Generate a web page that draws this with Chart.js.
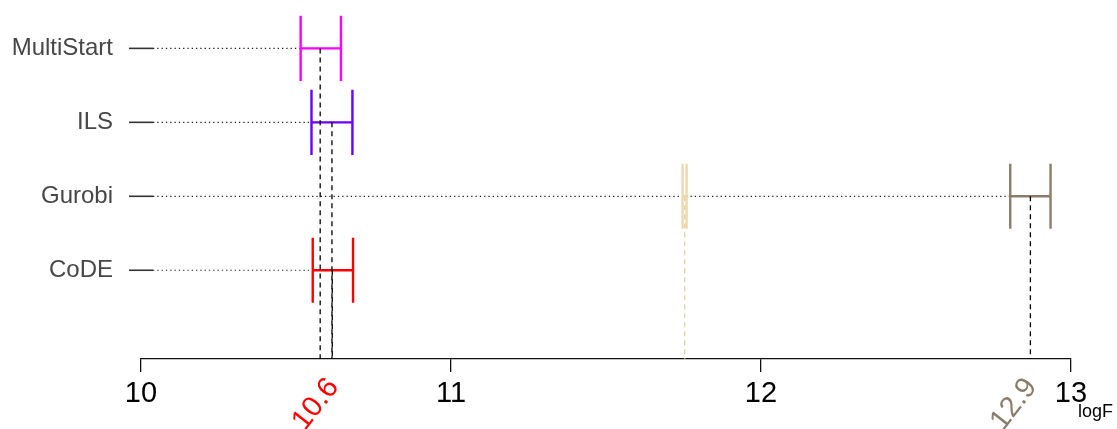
<!DOCTYPE html>
<html>
<head>
<meta charset="utf-8">
<title>logF intervals</title>
<script src="https://cdn.jsdelivr.net/npm/chart.js@4.4.1/dist/chart.umd.min.js"></script>
<style>
  body { margin: 0; background: #fff; }
  canvas { display: block; }
</style>
</head>
<body>
<canvas id="chart" width="1117" height="429"></canvas>
<script>
// rows, top to bottom
const methods = ["MultiStart", "ILS", "Gurobi", "CoDE"];

// one entry per interval (Gurobi has two)
const intervalMethod = ["MultiStart", "ILS", "Gurobi", "Gurobi", "CoDE"];
const intervalLow  = [10.515, 10.550, 11.747, 12.804, 10.554];
const intervalMid  = [10.578, 10.616, 11.754, 12.869, 10.617];
const intervalHigh = [10.645, 10.682, 11.760, 12.934, 10.684];

// intervals whose centre gets a rotated label under the axis
const labelledIntervals = [4, 3];

const xTicks = [10, 11, 12, 13];
const xTitle = "logF";

// styles
const intervalColors = ["#ff00ff", "#6a00ff", "#eed8ae", "#8b7d6b", "#ff0000"];
const midLineColors  = ["#000", "#000", "#e6cfa6", "#000", "#000"];
const FONT = "'Liberation Sans', Arial, Helvetica, sans-serif";
const Y_MIN = -0.2, Y_MAX = 4.6;
const CAP = 0.44; // half height of the end caps, in row units

const rowOf = name => methods.length - methods.indexOf(name);

const datasets = [];
intervalMethod.forEach((m, i) => {
  const y = rowOf(m);
  const lo = intervalLow[i], hi = intervalHigh[i];
  datasets.push({
    data: [
      {x: lo, y: y - CAP}, {x: lo, y: y + CAP}, {x: lo, y: null},
      {x: lo, y: y}, {x: hi, y: y}, {x: hi, y: null},
      {x: hi, y: y - CAP}, {x: hi, y: y + CAP}
    ],
    borderColor: intervalColors[i],
    borderWidth: 2.4,
    pointRadius: 0,
    spanGaps: false,
    borderCapStyle: "butt",
    order: 1
  });
  datasets.push({
    data: [{x: intervalMid[i], y: y}, {x: intervalMid[i], y: Y_MIN}],
    borderColor: midLineColors[i],
    borderWidth: 1.3,
    borderDash: [5, 4],
    pointRadius: 0,
    order: 0
  });
});

const rowGuides = {
  id: "rowGuides",
  beforeDatasetsDraw(chart) {
    const {ctx, chartArea, scales} = chart;
    ctx.save();
    methods.forEach(m => {
      const y = scales.y.getPixelForValue(rowOf(m));
      const mids = intervalMid.filter((v, i) => intervalMethod[i] === m);
      const end = scales.x.getPixelForValue(Math.max(...mids));
      ctx.strokeStyle = "#333";
      ctx.lineWidth = 1.6;
      ctx.setLineDash([]);
      ctx.beginPath();
      ctx.moveTo(chartArea.left - 12, y);
      ctx.lineTo(chartArea.left + 12, y);
      ctx.stroke();
      ctx.strokeStyle = "#222";
      ctx.lineWidth = 1.2;
      ctx.setLineDash([1.3, 3]);
      ctx.beginPath();
      ctx.moveTo(chartArea.left + 12, y);
      ctx.lineTo(end, y);
      ctx.stroke();
    });
    ctx.restore();
  },
  afterDraw(chart) {
    const {ctx, chartArea, scales} = chart;
    ctx.save();
    ctx.font = "29px " + FONT;
    ctx.textAlign = "right";
    ctx.textBaseline = "middle";
    labelledIntervals.forEach(i => {
      const x = scales.x.getPixelForValue(intervalMid[i]);
      ctx.save();
      ctx.translate(x + 1, chartArea.bottom + 23);
      ctx.rotate(-52 * Math.PI / 180);
      ctx.fillStyle = intervalColors[i];
      ctx.fillText(intervalMid[i].toFixed(1), 0, 0);
      ctx.restore();
    });
    ctx.font = "18px " + FONT;
    ctx.fillStyle = "#000";
    ctx.textAlign = "left";
    ctx.textBaseline = "alphabetic";
    ctx.fillText(xTitle, scales.x.getPixelForValue(xTicks[xTicks.length - 1]) + 7, 417);
    ctx.restore();
  }
};

new Chart(document.getElementById("chart"), {
  type: "line",
  data: {datasets},
  options: {
    responsive: false,
    animation: false,
    layout: {padding: {top: 4, right: 46, left: 0, bottom: 0}},
    plugins: {legend: {display: false}, tooltip: {enabled: false}},
    scales: {
      x: {
        type: "linear",
        min: xTicks[0],
        max: xTicks[xTicks.length - 1],
        afterBuildTicks: s => { s.ticks = xTicks.map(v => ({value: v})); },
        afterFit: s => { s.height = 70; },
        border: {display: true, color: "#111", width: 1.3},
        grid: {drawOnChartArea: false, drawTicks: true, tickLength: 13, color: "#111", lineWidth: 1.3},
        ticks: {color: "#000", font: {size: 29, family: FONT}, padding: 5, maxRotation: 0}
      },
      y: {
        type: "linear",
        min: Y_MIN,
        max: Y_MAX,
        afterBuildTicks: s => { s.ticks = methods.map(m => ({value: rowOf(m)})); },
        afterFit: s => { s.width = 141; s.paddingTop = 0; s.paddingBottom = 0; },
        border: {display: false},
        grid: {display: false, drawTicks: false},
        ticks: {
          color: "#474747",
          font: {size: 24, family: FONT},
          padding: 28,
          callback: v => methods[methods.length - v]
        }
      }
    }
  },
  plugins: [rowGuides]
});
</script>
</body>
</html>
